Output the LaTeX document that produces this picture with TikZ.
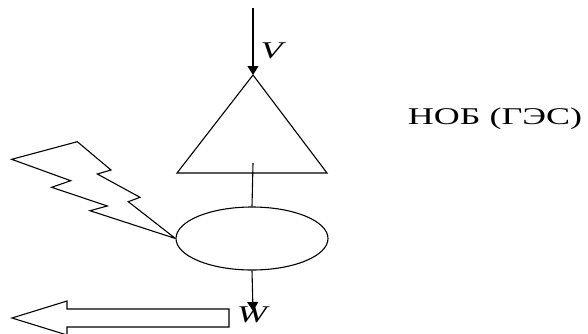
\documentclass[tikz,border=0pt]{standalone}
\usepackage{fontspec}
\setmainfont{Liberation Serif}
\usetikzlibrary{arrows.meta,shapes.geometric}
\begin{document}
\begin{tikzpicture}[x=1pt,y=-1pt,line width=1.1pt,line join=miter,
  conn/.style={draw,-{Triangle[length=9pt,width=11pt]}},
  var/.style={font=\fontsize{24}{24}\selectfont\itshape,inner sep=0pt,anchor=base,xscale=1.5},
  caption/.style={font=\fontsize{24}{24}\selectfont,inner sep=0pt,anchor=base,xscale=1.5}]
\useasboundingbox (0,0) rectangle (588,333);
\clip (0,0) rectangle (588,333);
% flow in
\coordinate (vin) at (253,8);
\coordinate (apex) at (253,75);
\coordinate (bl) at (177,173);
\coordinate (br) at (327,173);
\coordinate (tin) at (253,163);
\draw (apex) -- (bl) -- (br) -- cycle;
\draw[conn] (vin) -- (apex);
\node[var] (V) at (271.5,58) {V};
% generator
\node[draw,ellipse,minimum width=152pt,minimum height=63pt,inner sep=0pt] (gen) at (252,238.5) {};
\draw (tin) -- (gen.north);
\coordinate (wout) at (253,311);
\draw[conn] (gen.south) -- (wout);
\node[var] (W) at (252,322) {W};
% lightning
\draw (gen.west) -- (90,210.7) -- (107.3,206) -- (51.7,187.3) -- (70.7,180.7)
  -- (11.7,159.3) -- (77.3,141.7) -- (111,170) -- (97.3,174) -- (140,197.3)
  -- (128.3,201.7) -- (gen.west);
% hollow arrow
\draw (12,318) -- (67,301) -- (67,309) -- (229,309) -- (229,327) -- (67,327) -- (67,335) -- cycle;
% caption
\node[caption] (nob) at (495,124) {НОБ (ГЭС)};
\end{tikzpicture}
\end{document}
